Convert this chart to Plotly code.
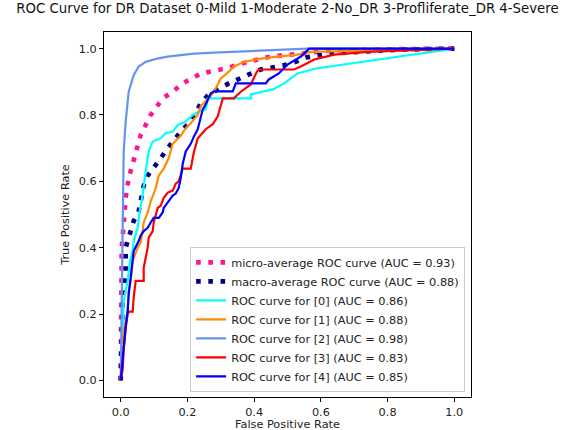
import plotly.graph_objects as go

# ---- data ----
micro_fpr = [0, 0, 0.003, 0.009, 0.015, 0.024, 0.036, 0.045, 0.06, 0.075, 0.09, 0.126, 0.156, 0.186, 0.24, 0.315, 0.38, 0.45, 0.52, 0.63, 0.8, 1.0]
micro_tpr = [0, 0.24, 0.40, 0.47, 0.55, 0.61, 0.65, 0.68, 0.74, 0.77, 0.80, 0.85, 0.87, 0.895, 0.925, 0.94, 0.96, 0.976, 0.982, 0.994, 0.998, 1.0]

macro_fpr = [0, 0.003, 0.006, 0.009, 0.015, 0.015, 0.03, 0.039, 0.054, 0.069, 0.081, 0.099, 0.12, 0.141, 0.156, 0.18, 0.21, 0.24, 0.264, 0.294, 0.324, 0.384, 0.42, 0.486, 0.52, 0.556, 0.625, 0.73, 0.84, 1.0]
macro_tpr = [0, 0.20, 0.23, 0.26, 0.31, 0.40, 0.446, 0.48, 0.51, 0.587, 0.617, 0.64, 0.67, 0.70, 0.72, 0.75, 0.78, 0.835, 0.862, 0.88, 0.895, 0.922, 0.937, 0.949, 0.958, 0.973, 0.985, 0.991, 0.997, 1.0]

c0_fpr = [0, 0.006, 0.009, 0.021, 0.027, 0.036, 0.039, 0.051, 0.057, 0.066, 0.075, 0.084, 0.096, 0.12, 0.135, 0.156, 0.171, 0.195, 0.216, 0.234, 0.255, 0.261, 0.39, 0.39, 0.456, 0.49, 0.53, 0.585, 1.0]
c0_tpr = [0, 0.12, 0.24, 0.30, 0.353, 0.39, 0.42, 0.46, 0.51, 0.56, 0.63, 0.69, 0.72, 0.73, 0.745, 0.75, 0.77, 0.78, 0.80, 0.81, 0.817, 0.85, 0.85, 0.862, 0.877, 0.895, 0.925, 0.94, 1.0]

c1_fpr = [0, 0.009, 0.021, 0.024, 0.03, 0.036, 0.051, 0.06, 0.066, 0.069, 0.081, 0.09, 0.099, 0.105, 0.114, 0.129, 0.144, 0.156, 0.18, 0.195, 0.21, 0.231, 0.24, 0.264, 0.28, 0.30, 0.315, 0.34, 0.37, 0.42, 0.47, 0.53, 0.57, 1.0]
c1_tpr = [0, 0.15, 0.21, 0.27, 0.30, 0.36, 0.40, 0.416, 0.45, 0.476, 0.506, 0.54, 0.563, 0.58, 0.617, 0.638, 0.67, 0.713, 0.737, 0.76, 0.775, 0.80, 0.826, 0.85, 0.87, 0.91, 0.922, 0.946, 0.96, 0.97, 0.976, 0.982, 0.99, 1.0]

c2_fpr = [0, 0.003, 0.006, 0.009, 0.009, 0.015, 0.024, 0.039, 0.054, 0.075, 0.11, 0.14, 0.22, 0.28, 0.56, 1.0]
c2_tpr = [0, 0.20, 0.36, 0.66, 0.69, 0.78, 0.87, 0.92, 0.946, 0.96, 0.97, 0.976, 0.985, 0.988, 1.0, 1.0]

c3_fpr = [0, 0.006, 0.009, 0.015, 0.021, 0.024, 0.036, 0.039, 0.045, 0.069, 0.069, 0.081, 0.084, 0.096, 0.099, 0.111, 0.12, 0.129, 0.141, 0.156, 0.165, 0.174, 0.186, 0.21, 0.219, 0.231, 0.255, 0.276, 0.291, 0.306, 0.339, 0.36, 0.39, 0.408, 0.414, 0.52, 0.54, 0.58, 0.64, 0.74, 1.0]
c3_tpr = [0, 0.033, 0.093, 0.16, 0.20, 0.207, 0.207, 0.25, 0.30, 0.30, 0.34, 0.40, 0.43, 0.45, 0.476, 0.52, 0.527, 0.55, 0.566, 0.572, 0.593, 0.60, 0.638, 0.638, 0.686, 0.73, 0.757, 0.772, 0.796, 0.85, 0.85, 0.87, 0.892, 0.93, 0.937, 0.937, 0.946, 0.967, 0.982, 0.99, 1.0]

c4_fpr = [0, 0.006, 0.009, 0.015, 0.021, 0.024, 0.03, 0.036, 0.039, 0.054, 0.06, 0.069, 0.081, 0.09, 0.099, 0.114, 0.126, 0.129, 0.144, 0.156, 0.165, 0.174, 0.18, 0.186, 0.195, 0.21, 0.219, 0.231, 0.246, 0.255, 0.27, 0.28, 0.336, 0.345, 0.435, 0.444, 0.474, 0.50, 0.54, 0.565, 1.0]
c4_tpr = [0, 0.063, 0.114, 0.16, 0.21, 0.26, 0.31, 0.353, 0.39, 0.42, 0.437, 0.45, 0.46, 0.476, 0.49, 0.49, 0.506, 0.52, 0.54, 0.557, 0.563, 0.58, 0.61, 0.653, 0.69, 0.713, 0.734, 0.757, 0.817, 0.832, 0.865, 0.871, 0.871, 0.895, 0.895, 0.907, 0.925, 0.952, 0.976, 1.0, 1.0]

labels = [
    "micro-average ROC curve (AUC = 0.93)",
    "macro-average ROC curve (AUC = 0.88)",
    "ROC curve for [0] (AUC = 0.86)",
    "ROC curve for [1] (AUC = 0.88)",
    "ROC curve for [2] (AUC = 0.98)",
    "ROC curve for [3] (AUC = 0.83)",
    "ROC curve for [4] (AUC = 0.85)",
]
tick_vals = [0.0, 0.2, 0.4, 0.6, 0.8, 1.0]
tick_text = ["0.0", "0.2", "0.4", "0.6", "0.8", "1.0"]
x_title = "False Positive Rate"
y_title = "True Positive Rate"
chart_title = "ROC Curve for DR Dataset 0-Mild 1-Moderate 2-No_DR 3-Profliferate_DR 4-Severe"

series = [
    (micro_fpr, micro_tpr, "deeppink", 4.6, "4.6px,7.6px"),
    (macro_fpr, macro_tpr, "navy", 4.6, "4.6px,7.6px"),
    (c0_fpr, c0_tpr, "aqua", 2.2, "solid"),
    (c1_fpr, c1_tpr, "darkorange", 2.2, "solid"),
    (c2_fpr, c2_tpr, "cornflowerblue", 2.2, "solid"),
    (c3_fpr, c3_tpr, "red", 2.2, "solid"),
    (c4_fpr, c4_tpr, "blue", 2.2, "solid"),
]

fig = go.Figure()
for (xs, ys, col, w, dash), lab in zip(series, labels):
    fig.add_trace(go.Scatter(x=xs, y=ys, mode="lines", name=lab,
                             line=dict(color=col, width=w, dash=dash)))

font_family = "DejaVu Sans"
fs = 11.3
axis_common = dict(
    showline=True, linecolor="black", linewidth=1, mirror=True,
    showgrid=False, zeroline=False, ticks="outside", ticklen=4,
    tickcolor="black", tickwidth=1, tickvals=tick_vals, ticktext=tick_text,
    tickfont=dict(family=font_family, size=fs, color="#222"),
    range=[-0.05, 1.05], automargin=False,
)

fig.update_layout(
    width=563, height=430,
    margin=dict(l=104, r=92, t=32, b=33, autoexpand=False),
    paper_bgcolor="white", plot_bgcolor="white",
    font=dict(family=font_family, size=fs, color="#222"),
    title=dict(text=chart_title,
               x=0.5, xref="paper", xanchor="center", y=1, yref="container",
               yanchor="top", pad=dict(t=4), automargin=False,
               font=dict(family=font_family, size=13.3, color="#111")),
    xaxis=dict(axis_common),
    yaxis=dict(axis_common, title=dict(text=y_title, standoff=6,
                                       font=dict(family=font_family, size=fs, color="#222"))),
    legend=dict(x=0.984, y=0.014, xanchor="right", yanchor="bottom",
                bgcolor="rgba(255,255,255,0.8)", bordercolor="#cccccc", borderwidth=1,
                font=dict(family=font_family, size=fs, color="#222"),
                tracegroupgap=0, itemwidth=30),
    showlegend=True,
    annotations=[dict(text=x_title, xref="paper", yref="paper", x=0.5, y=-0.074,
                      xanchor="center", yanchor="middle", showarrow=False,
                      font=dict(family=font_family, size=fs, color="#222"))],
)

fig.write_html("out.html", config={"displayModeBar": False},
               post_script="document.body.style.margin='0';document.body.style.padding='0';")
